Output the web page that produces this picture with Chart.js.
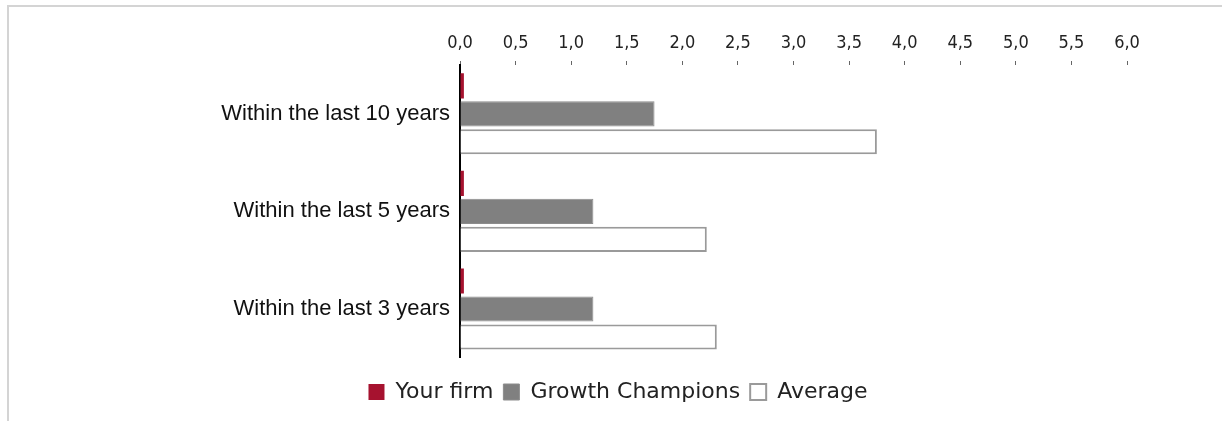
<!DOCTYPE html>
<html>
<head>
<meta charset="utf-8">
<script src="https://cdn.jsdelivr.net/npm/chart.js@4"></script>
<style>
    html, body { margin: 0; padding: 0; background: #fff; }
    #wrap { position: relative; width: 1222px; height: 421px; }
    #frame { position: absolute; left: 7px; top: 5px; right: 0; bottom: 0;
             border-top: 2px solid #d4d4d4; border-left: 2px solid #d4d4d4; }
    canvas { position: absolute; left: 0; top: 0; }
</style>
</head>
<body>
<div id="wrap">
    <div id="frame"></div>
    <canvas id="myChart" width="1222" height="421"></canvas>
</div>
<script>
const categories = ['Within the last 10 years', 'Within the last 5 years', 'Within the last 3 years'];
const yourFirm = [0.035, 0.035, 0.035];
const growthChampions = [1.75, 1.2, 1.2];
const average = [3.75, 2.22, 2.31];
const xTicksMin = 0;
const xTicksMax = 6;
const xTicksStep = 0.5;

document.addEventListener("DOMContentLoaded", function () {
    const ctx = document.getElementById('myChart').getContext('2d');

    new Chart(ctx, {
        type: 'bar',
        data: {
            labels: categories,
            datasets: [
                {
                    label: 'Your firm',
                    data: yourFirm,
                    backgroundColor: '#a6122f',
                    borderColor: '#a6122f',
                    borderWidth: 0
                },
                {
                    label: 'Growth Champions',
                    data: growthChampions,
                    backgroundColor: '#808080',
                    borderColor: '#8c8c8c',
                    borderWidth: 1
                },
                {
                    label: 'Average',
                    data: average,
                    backgroundColor: '#ffffff',
                    borderColor: '#9a9a9a',
                    borderWidth: 2
                }
            ]
        },
        options: {
            indexAxis: 'y',
            responsive: false,
            animation: false,
            layout: {
                // left/right padding unequal so the legend centres where the original does
                padding: { left: 109, right: 95, top: 0, bottom: 8 }
            },
            categoryPercentage: 0.86,
            barPercentage: 0.9,
            plugins: {
                legend: {
                    position: 'bottom',
                    title: {
                        display: true,
                        text: '',
                        font: { size: 1 },
                        padding: { top: 0, bottom: 12 }
                    },
                    labels: {
                        font: { family: 'DejaVu Sans', size: 22 },
                        color: '#222',
                        boxWidth: 16,
                        boxHeight: 16,
                        padding: 10
                    }
                },
                tooltip: { enabled: false }
            },
            scales: {
                x: {
                    position: 'top',
                    min: xTicksMin,
                    max: xTicksMax,
                    afterFit: function (scale) { scale.height = 65; },
                    ticks: {
                        stepSize: xTicksStep,
                        color: '#222',
                        font: { family: 'DejaVu Sans Condensed', size: 18 },
                        padding: 7,
                        callback: function (v) { return v.toFixed(1).replace('.', ','); }
                    },
                    grid: {
                        drawOnChartArea: false,
                        color: '#666',
                        tickLength: 4
                    },
                    border: { display: false }
                },
                y: {
                    afterFit: function (scale) { scale.width = 351; },
                    ticks: {
                        color: '#111',
                        font: { family: 'Liberation Sans', size: 22 },
                        padding: 2
                    },
                    grid: { display: false },
                    border: { display: true, color: '#000', width: 2 }
                }
            }
        }
    });
});
</script>
</body>
</html>
